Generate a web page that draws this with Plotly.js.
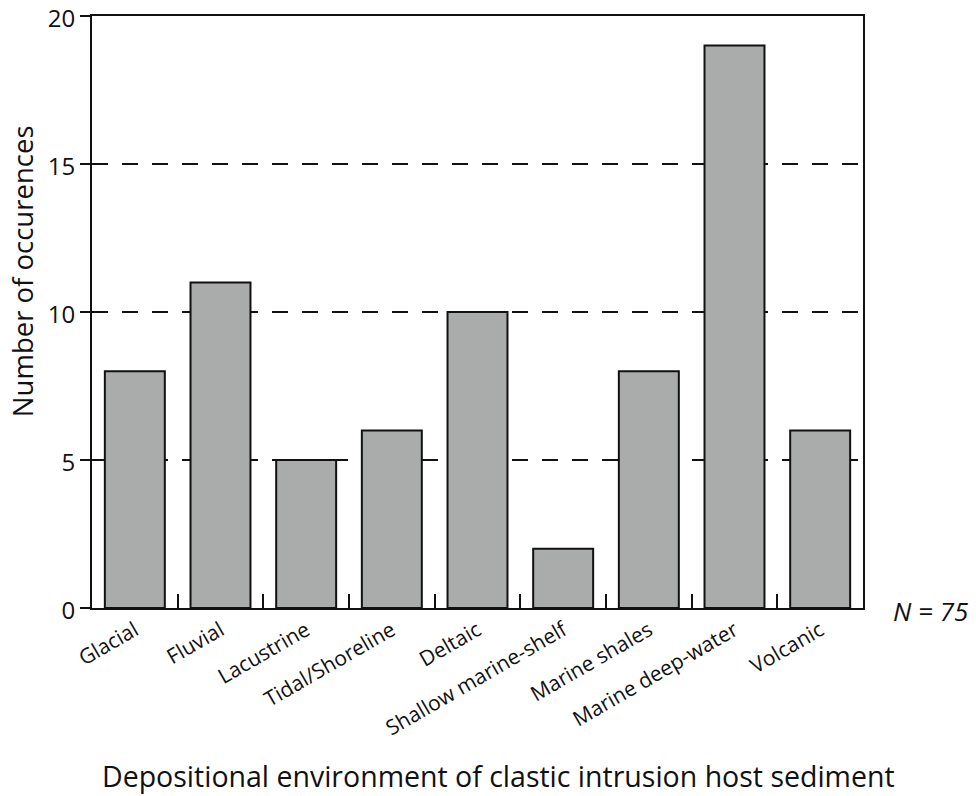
<!DOCTYPE html>
<html>
<head>
<meta charset="utf-8">
<script src="https://cdn.plot.ly/plotly-3.0.1.min.js"></script>
<style>html,body{margin:0;padding:0;background:#fff;}#chart{width:976px;height:796px;}</style>
</head>
<body>
<div id="chart"></div>
<script>
const categories = ["Glacial", "Fluvial", "Lacustrine", "Tidal/Shoreline", "Deltaic", "Shallow marine-shelf", "Marine shales", "Marine deep-water", "Volcanic"];
const occurrences = [8, 11, 5, 6, 10, 2, 8, 19, 6];
const yTicks = [0, 5, 10, 15, 20];
const xTitle = "Depositional environment of clastic intrusion host sediment";
const yTitle = "Number of occurences";
const nLabel = "N = 75";

const font = "Open Sans, Noto Sans, sans-serif";

const trace = {
  type: "bar",
  x: categories,
  y: occurrences,
  marker: {color: "#aaacab", line: {color: "#111", width: 2}},
  hoverinfo: "x+y"
};

const layout = {
  width: 976, height: 796,
  paper_bgcolor: "#fff", plot_bgcolor: "#fff",
  margin: {l: 92, r: 113, t: 16, b: 188},
  bargap: 0.3,
  showlegend: false,
  font: {family: font, color: "#111"},
  xaxis: {
    type: "category",
    automargin: false,
    showline: true, linecolor: "#111", linewidth: 2, mirror: true,
    ticks: "inside", tickson: "boundaries", ticklen: 14, tickwidth: 2, tickcolor: "#111",
    tickangle: -30,
    tickfont: {size: 21, family: font, color: "#111"},
    showgrid: false
  },
  yaxis: {
    range: [0, 20],
    automargin: false,
    tickvals: yTicks,
    ticklabeloverflow: "allow",
    ticklabelshift: 3,
    showline: true, linecolor: "#111", linewidth: 2, mirror: true,
    ticks: "outside", ticklen: 10, tickwidth: 2, tickcolor: "#111",
    tickfont: {size: 24, family: font, color: "#111"},
    showgrid: true, gridcolor: "#111", gridwidth: 2, griddash: "16px,14px",
    zeroline: false
  },
  annotations: [
    {
      xref: "paper", yref: "paper", x: 1.139, y: -0.005, xanchor: "right", yanchor: "middle",
      text: "<i>" + nLabel + "</i>", showarrow: false, font: {size: 26, family: font, color: "#111"}
    },
    {
      xref: "paper", yref: "paper", x: 0.5266, y: -0.284, xanchor: "center", yanchor: "middle",
      text: xTitle, showarrow: false, font: {size: 28.5, family: font, color: "#111"}
    },
    {
      xref: "paper", yref: "paper", x: -0.0908, y: 0.569, xanchor: "center", yanchor: "middle",
      textangle: -90,
      text: yTitle, showarrow: false, font: {size: 27.5, family: font, color: "#111"}
    }
  ]
};

Plotly.newPlot("chart", [trace], layout, {displayModeBar: false, staticPlot: true});
</script>
</body>
</html>
